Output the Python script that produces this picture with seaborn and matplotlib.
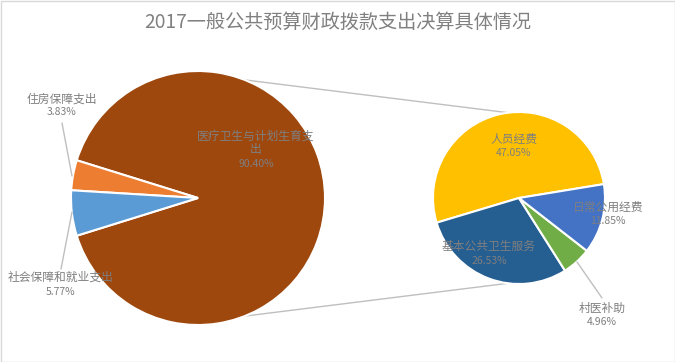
import numpy as np
import matplotlib
matplotlib.use("Agg")
import matplotlib.pyplot as plt
from matplotlib.patches import Rectangle
import seaborn as sns

# ---- data ----
title = "2017一般公共预算财政拨款支出决算具体情况"
main_names = ["医疗卫生与计划生育支出", "住房保障支出", "社会保障和就业支出"]
main_values = [90.40, 3.83, 5.77]
main_colors = ["#9E480E", "#ED7D31", "#5B9BD5"]

sub_names = ["人员经费", "基本公共卫生服务", "村医补助", "日常公用经费"]
sub_values = [47.05, 26.53, 4.96, 11.85]
sub_colors = ["#FFC000", "#255E91", "#70AD47", "#4472C4"]

sns.set_theme(style="white")
plt.rcParams['font.family'] = ['Noto Sans CJK SC', 'DejaVu Sans']

W, H = 675, 362
fig = plt.figure(figsize=(W / 100, H / 100), dpi=100)
ax = fig.add_axes([0, 0, 1, 1])

def Y(py):
    return H - py

c1, r1 = (198, Y(198)), 127
c2, r2 = (519, Y(198)), 86

wp = dict(edgecolor="white", linewidth=1.5)
start1 = 180 + (100 - main_values[0]) / 100 * 360 / 2
ax.pie(main_values, colors=main_colors, startangle=start1, counterclock=True,
       center=c1, radius=r1, wedgeprops=wp, frame=False)
ax.pie(sub_values, colors=sub_colors, startangle=9.3, counterclock=True,
       center=c2, radius=r2, wedgeprops=wp, frame=False)

# connector lines (external tangents between the two pies)
d = c2[0] - c1[0]
th = np.arcsin((r1 - r2) / d)
for sgn in (1, -1):
    a = np.pi / 2 + th
    p1 = (c1[0] + r1 * np.cos(a), c1[1] + sgn * r1 * np.sin(a))
    p2 = (c2[0] + r2 * np.cos(a), c2[1] + sgn * r2 * np.sin(a))
    ax.plot([p1[0], p2[0]], [p1[1], p2[1]], color="#BFBFBF", lw=1.0, zorder=0)

ax.set_xlim(0, W)
ax.set_ylim(0, H)
ax.set_aspect("equal")
ax.axis("off")

txt = "#7F7F7F"
# label layout: (x, y_name, y_pct, name_text)
main_lab = [
    (256, 143, 164, "医疗卫生与计划生育支\n出"),
    (62, 99, 112, main_names[1]),
    (61, 277, 292, main_names[2]),
]
sub_lab = [
    (514, 140, 153, sub_names[0]),
    (489, 246, 261, sub_names[1]),
    (602, 308, 322, sub_names[2]),
    (608, 207, 221, sub_names[3]),
]
for (x, yn, yp, nm), v in zip(main_lab, main_values):
    ax.text(x, Y(yn), nm, ha="center", va="center", fontsize=8.5, color=txt,
            linespacing=1.1)
    ax.text(x, Y(yp), f"{v:.2f}%", ha="center", va="center", fontsize=7.5, color=txt)
for (x, yn, yp, nm), v in zip(sub_lab, sub_values):
    ax.text(x, Y(yn), nm, ha="center", va="center", fontsize=8.5, color=txt)
    ax.text(x, Y(yp), f"{v:.2f}%", ha="center", va="center", fontsize=7.5, color=txt)

# leader lines
leaders = [((62, 123), (72, 176)), ((61, 269), (72, 212)), ((602, 298), (577, 262))]
for (a, b) in leaders:
    ax.plot([a[0], b[0]], [Y(a[1]), Y(b[1])], color="#BFBFBF", lw=1.0, zorder=3)

ax.text(W / 2, Y(22), title, ha="center", va="center", fontsize=13.8, color="#808080")

fig.add_artist(Rectangle((0.5 / W, 0.5 / H), 1 - 1 / W, 1 - 1 / H,
                         transform=fig.transFigure, fill=False,
                         edgecolor="#D9D9D9", lw=1))
fig.savefig("out.png", dpi=100)
